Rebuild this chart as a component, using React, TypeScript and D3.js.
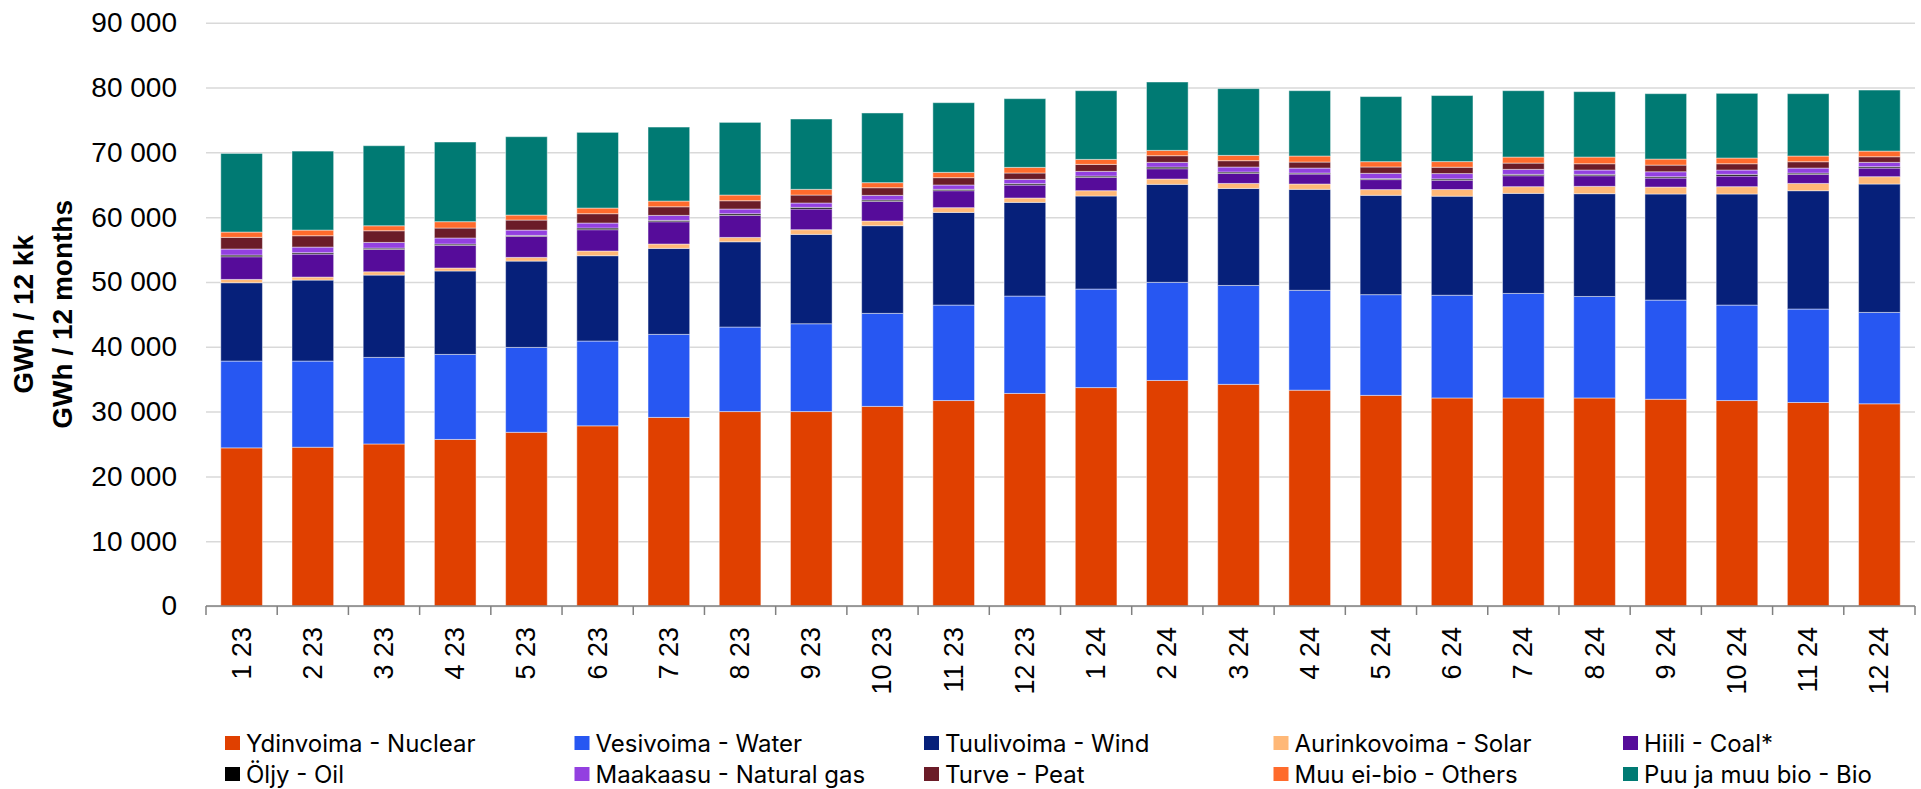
import React, { useRef, useEffect } from 'react';
import * as d3 from 'd3';

// months on the x axis
const months = [
  "1 23", "2 23", "3 23", "4 23", "5 23", "6 23", "7 23", "8 23", "9 23", "10 23", "11 23", "12 23",
  "1 24", "2 24", "3 24", "4 24", "5 24", "6 24", "7 24", "8 24", "9 24", "10 24", "11 24", "12 24",
];

// GWh / 12 months, rolling
const nuclear = [24400, 24500, 25000, 25700, 26800, 27800, 29100, 30000, 30000, 30800, 31700, 32800, 33700, 34800, 34200, 33300, 32500, 32100, 32100, 32100, 31900, 31700, 31400, 31200];
const water = [13390, 13290, 13360, 13120, 13100, 13080, 12810, 13040, 13550, 14350, 14730, 15020, 15200, 15140, 15260, 15410, 15540, 15850, 16130, 15660, 15300, 14730, 14420, 14100];
const wind = [12090, 12500, 12700, 12870, 13320, 13170, 13270, 13160, 13790, 13530, 14300, 14460, 14360, 15120, 14970, 15580, 15330, 15280, 15440, 15860, 16370, 17140, 18260, 19810];
const solar = [510, 460, 510, 460, 570, 720, 670, 670, 720, 720, 730, 670, 820, 820, 770, 820, 880, 1030, 1030, 1130, 1070, 1130, 1120, 1130];
const coal = [3500, 3550, 3450, 3500, 3240, 3290, 3440, 3400, 3190, 3030, 2620, 2000, 2050, 1590, 1550, 1540, 1540, 1430, 1690, 1640, 1390, 1640, 1400, 1330];
const oil = [260, 210, 200, 200, 150, 260, 210, 250, 260, 210, 210, 210, 210, 260, 210, 150, 150, 210, 210, 210, 200, 260, 200, 210];
const gas = [930, 870, 880, 930, 820, 770, 770, 730, 670, 720, 670, 670, 720, 720, 770, 770, 820, 820, 770, 670, 770, 670, 770, 670];
const peat = [1800, 1750, 1800, 1540, 1550, 1440, 1330, 1280, 1230, 1180, 1130, 980, 1080, 1030, 980, 930, 980, 980, 970, 970, 1030, 970, 980, 870];
const others = [820, 870, 770, 980, 770, 870, 880, 880, 880, 780, 820, 870, 770, 820, 820, 930, 820, 870, 930, 1030, 930, 880, 880, 870];
const bio = [12130, 12190, 12350, 12290, 12090, 11680, 11420, 11210, 10850, 10750, 10750, 10600, 10600, 10550, 10300, 10080, 10040, 10190, 10240, 10090, 10090, 9980, 9620, 9420];

const seriesNames = [
  "Ydinvoima - Nuclear", "Vesivoima - Water", "Tuulivoima - Wind", "Aurinkovoima - Solar", "Hiili - Coal*",
  "Öljy - Oil", "Maakaasu - Natural gas", "Turve - Peat", "Muu ei-bio - Others", "Puu ja muu bio - Bio",
];
const seriesValues = [nuclear, water, wind, solar, coal, oil, gas, peat, others, bio];
const seriesColors = ["#E04000", "#2757F2", "#06207A", "#FFB877", "#560C9A", "#000000", "#9340E0", "#6B1C28", "#FF6B2C", "#007A73"];

const yTicks = [0, 10000, 20000, 30000, 40000, 50000, 60000, 70000, 80000, 90000];

const chartStyle = {
  width: 1921,
  height: 789,
  margin: { top: 22.7, left: 206, bottom: 183, right: 6 },
  tickFont: "'Liberation Sans', Arial, sans-serif",
  tickFontSize: "28px",
  xTickFontSize: "27px",
  legendFont: "Inter, 'Liberation Sans', sans-serif",
  legendFontSize: "24px",
  gridLineColor: "#d9d9d9",
  axisColor: "#808080",
};

const locale = d3.formatLocale({ decimal: ",", thousands: " ", grouping: [3], currency: ["", ""] });
const formatTick = locale.format(",");

const App: React.FC = () => {
  const svgRef = useRef<SVGSVGElement>(null);

  useEffect(() => {
    document.body.style.margin = "0";
    if (!svgRef.current) return;
    const { width, height, margin } = chartStyle;
    const svg = d3.select(svgRef.current);
    svg.selectAll("*").remove();

    const rows = months.map((m, i) => {
      const row: { [k: string]: number | string } = { month: m };
      seriesNames.forEach((s, j) => { row[s] = seriesValues[j][i]; });
      return row;
    });

    const stacked = d3.stack<any>().keys(seriesNames)(rows);

    const xScale = d3.scaleBand()
      .domain(months)
      .range([margin.left, width - margin.right])
      .paddingInner(0.415)
      .paddingOuter(0.2075);

    const yScale = d3.scaleLinear()
      .domain([0, 90000])
      .range([height - margin.bottom, margin.top]);

    // gridlines + y labels
    const yAxis = d3.axisLeft<number>(yScale)
      .tickValues(yTicks)
      .tickFormat(v => formatTick(v))
      .tickSize(-(width - margin.right - margin.left))
      .tickPadding(29);

    svg.append("g")
      .attr("class", "y-axis")
      .attr("transform", `translate(${margin.left},0)`)
      .call(yAxis)
      .call(g => g.select(".domain").remove())
      .call(g => g.selectAll("line")
        .attr("stroke", chartStyle.gridLineColor)
        .attr("stroke-width", 1.5))
      .call(g => g.selectAll("text")
        .style("font-family", chartStyle.tickFont)
        .style("font-size", chartStyle.tickFontSize)
        .attr("fill", "#000"));

    // bars
    svg.append("g")
      .selectAll("g")
      .data(stacked)
      .join("g")
      .attr("fill", (_, i) => seriesColors[i])
      .selectAll("rect")
      .data(d => d)
      .join("rect")
      .attr("x", d => xScale(d.data.month as string)!)
      .attr("width", xScale.bandwidth())
      .attr("y", d => yScale(d[1]))
      .attr("height", d => yScale(d[0]) - yScale(d[1]))
      .attr("stroke", "#ffffff")
      .attr("stroke-opacity", 0.45)
      .attr("stroke-width", 1);

    // x axis line and boundary ticks
    const y0 = yScale(0);
    const step = xScale.step();
    const xAxis = svg.append("g").attr("class", "x-axis");
    xAxis.append("line")
      .attr("x1", margin.left).attr("x2", width - margin.right)
      .attr("y1", y0).attr("y2", y0)
      .attr("stroke", chartStyle.axisColor).attr("stroke-width", 1.5);
    xAxis.selectAll(".tick-mark")
      .data(d3.range(months.length + 1))
      .join("line")
      .attr("class", "tick-mark")
      .attr("x1", i => margin.left + i * step).attr("x2", i => margin.left + i * step)
      .attr("y1", y0).attr("y2", y0 + 9)
      .attr("stroke", chartStyle.axisColor).attr("stroke-width", 1.5);
    xAxis.selectAll(".x-label")
      .data(months)
      .join("text")
      .attr("class", "x-label")
      .attr("transform", d => `translate(${xScale(d)! + xScale.bandwidth() / 2},${y0 + 21}) rotate(-90)`)
      .attr("text-anchor", "end")
      .attr("dominant-baseline", "central")
      .style("font-family", chartStyle.tickFont)
      .style("font-size", chartStyle.xTickFontSize)
      .attr("fill", "#000")
      .text(d => d);

    // y axis title
    const yMid = (margin.top + y0) / 2;
    svg.append("text")
      .attr("transform", `translate(23,${yMid}) rotate(-90)`)
      .attr("text-anchor", "middle")
      .attr("dominant-baseline", "central")
      .style("font-family", chartStyle.tickFont)
      .style("font-size", "28px")
      .style("font-weight", "bold")
      .text("GWh / 12 kk");
    svg.append("text")
      .attr("transform", `translate(62,${yMid}) rotate(-90)`)
      .attr("text-anchor", "middle")
      .attr("dominant-baseline", "central")
      .style("font-family", chartStyle.tickFont)
      .style("font-size", "28px")
      .style("font-weight", "bold")
      .text("GWh / 12 months");

    // legend, 2 rows x 5 cols
    const legend = svg.append("g").attr("class", "legend");
    const items = legend.selectAll("g")
      .data(seriesNames)
      .join("g")
      .attr("transform", (_, i) => `translate(${225 + (i % 5) * 349.5},${743 + Math.floor(i / 5) * 31})`);
    items.append("rect")
      .attr("x", 0).attr("y", -7)
      .attr("width", 15).attr("height", 14)
      .attr("fill", (_, i) => seriesColors[i]);
    items.append("text")
      .attr("x", 21)
      .attr("dominant-baseline", "central")
      .style("font-family", chartStyle.legendFont)
      .style("font-size", chartStyle.legendFontSize)
      .attr("fill", "#000")
      .text(d => d);
  }, []);

  return (
    <svg ref={svgRef} width={chartStyle.width} height={chartStyle.height} style={{ display: "block", background: "#fff" }} />
  );
};

export default App;
